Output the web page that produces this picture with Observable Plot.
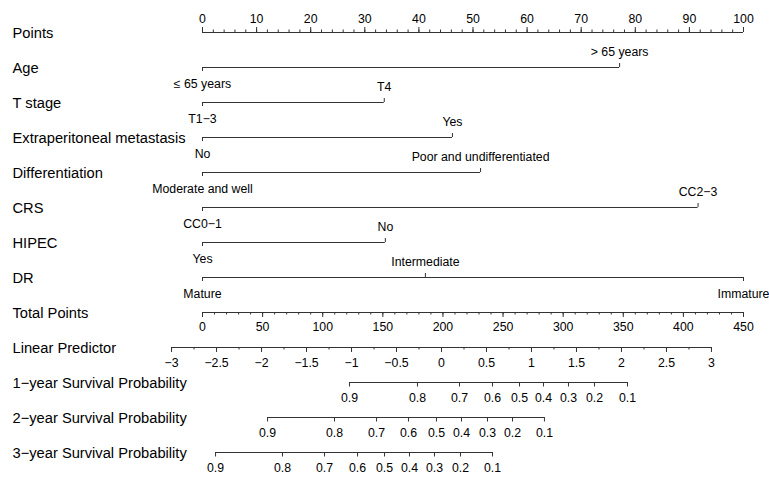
<!DOCTYPE html>
<html><head><meta charset="utf-8">
<script src="https://cdn.jsdelivr.net/npm/d3@7"></script>
<script src="https://cdn.jsdelivr.net/npm/@observablehq/plot@0.6"></script>
<style>body{margin:0;background:#fff} svg{display:block}</style>
</head><body><div id="chart"></div>
<script>
// ---- data ----
const rows = ["Points","Age","T stage","Extraperitoneal metastasis","Differentiation","CRS","HIPEC","DR",
  "Total Points","Linear Predictor","1\u2212year Survival Probability","2\u2212year Survival Probability","3\u2212year Survival Probability"];

const ageLevels = ["\u2264 65 years", "> 65 years"];           const agePoints = [0, 77.1];
const tLevels = ["T1\u22123", "T4"];                            const tPoints = [0, 33.6];
const epmLevels = ["No", "Yes"];                                const epmPoints = [0, 46.2];
const diffLevels = ["Moderate and well", "Poor and undifferentiated"]; const diffPoints = [0, 51.4];
const crsLevels = ["CC0\u22121", "CC2\u22123"];                 const crsPoints = [0, 91.6];
const hipecLevels = ["Yes", "No"];                              const hipecPoints = [0, 33.8];
const drLevels = ["Mature", "Intermediate", "Immature"];        const drPoints = [0, 41.2, 100];

const pointsMinor = d3.range(0, 101, 2);
const pointsMajor = d3.range(0, 101, 10);
const totalMinor = d3.range(0, 451, 10);
const totalMajor = d3.range(0, 451, 50);
const lpMinor = d3.range(-3, 3.001, 0.25);
const lpMajor = d3.range(-3, 3.001, 0.5);
// linear predictor at total points 0 and 450
const lpAtTotal = [-2.656, 3.356];
const totalRange = [0, 450];

const survProbs = [0.9, 0.8, 0.7, 0.6, 0.5, 0.4, 0.3, 0.2, 0.1];
const surv1LP = [-1.022, -0.267, 0.200, 0.567, 0.867, 1.133, 1.411, 1.700, 2.067];
const surv2LP = [-1.933, -1.189, -0.722, -0.367, -0.056, 0.222, 0.511, 0.789, 1.144];
const surv3LP = [-2.511, -1.767, -1.300, -0.933, -0.633, -0.356, -0.078, 0.211, 0.567];

// ---- build tables ----
const totalToPts = t => t / totalRange[1] * 100;
const lpToPts = lp => (lp - lpAtTotal[0]) / (lpAtTotal[1] - lpAtTotal[0]) * 100;
const fmt = v => String(+v.toFixed(2)).replace("-", "\u2212");

const predictors = [
  ["Age", ageLevels, agePoints], ["T stage", tLevels, tPoints],
  ["Extraperitoneal metastasis", epmLevels, epmPoints], ["Differentiation", diffLevels, diffPoints],
  ["CRS", crsLevels, crsPoints], ["HIPEC", hipecLevels, hipecPoints], ["DR", drLevels, drPoints]
];
const levelRows = predictors.flatMap(([row, lv, pts]) =>
  lv.map((label, i) => ({row, label, x: pts[i], above: i % 2 === 1})));
const segs = predictors.map(([row, lv, pts]) => ({row, x1: d3.min(pts), x2: d3.max(pts)}));

const survRows = [
  [rows[10], surv1LP], [rows[11], surv2LP], [rows[12], surv3LP]
];
const survTicks = survRows.flatMap(([row, lps]) => lps.map((lp, i) => ({row, x: lpToPts(lp), label: String(survProbs[i])})));
survRows.forEach(([row, lps]) => segs.push({row, x1: lpToPts(d3.min(lps)), x2: lpToPts(d3.max(lps))}));

segs.push({row: "Points", x1: 0, x2: 100});
segs.push({row: "Total Points", x1: totalToPts(0), x2: totalToPts(450)});
segs.push({row: "Linear Predictor", x1: lpToPts(-3), x2: lpToPts(3)});

const pMinor = pointsMinor.map(v => ({row: "Points", x: v}));
const pMajor = pointsMajor.map(v => ({row: "Points", x: v, label: String(v)}));
const tMinor = totalMinor.map(v => ({row: "Total Points", x: totalToPts(v)}));
const tMajor = totalMajor.map(v => ({row: "Total Points", x: totalToPts(v), label: String(v)}));
const lMinor = lpMinor.map(v => ({row: "Linear Predictor", x: lpToPts(v)}));
const lMajor = lpMajor.map(v => ({row: "Linear Predictor", x: lpToPts(v), label: fmt(v)}));

const ink = "#333";
const fs = 12.3;
const tickUp = (data, len) => Plot.ruleX(data, {x: "x", y1: "row", y2: "row", insetTop: -len, insetBottom: 0, stroke: ink, strokeWidth: 1});
const tickDown = (data, len) => Plot.ruleX(data, {x: "x", y1: "row", y2: "row", insetTop: 0, insetBottom: -len, stroke: ink, strokeWidth: 1});
const lab = (data, dy) => Plot.text(data, {x: "x", y: "row", text: "label", dy, fontSize: fs, fill: "#000"});

const chart = Plot.plot({
  width: 769, height: 479,
  marginLeft: 202, marginRight: 26, marginTop: 29, marginBottom: 24,
  x: {domain: [0, 100], axis: null},
  y: {type: "point", domain: rows, axis: null, padding: 0},
  style: {fontFamily: "'Liberation Sans', Arial, Helvetica, sans-serif", color: "#000", background: "#fff", overflow: "visible"},
  marks: [
    Plot.text(rows, {y: d => d, text: d => d, frameAnchor: "left", textAnchor: "start", dx: -190, dy: 0.5, fontSize: 14.7, fill: "#000"}),
    Plot.ruleY(segs, {y: "row", x1: "x1", x2: "x2", stroke: ink, strokeWidth: 1}),
    // Points axis
    tickUp(pMinor, 2.5), tickUp(pMajor, 5),
    lab(pMajor, -13.5),
    // Total points
    tickDown(tMinor, 2.5), tickDown(tMajor, 5),
    lab(tMajor, 15),
    // Linear predictor
    tickDown(lMinor, 2.5), tickDown(lMajor, 5),
    lab(lMajor, 15.5),
    // Survival
    tickDown(survTicks, 4.5),
    lab(survTicks, 15.5),
    // Predictor levels
    tickUp(levelRows.filter(d => d.above), 4),
    tickDown(levelRows.filter(d => !d.above), 4),
    lab(levelRows.filter(d => d.above), -15),
    lab(levelRows.filter(d => !d.above), 16.5)
  ]
});
document.getElementById("chart").appendChild(chart);
</script>
</body></html>
